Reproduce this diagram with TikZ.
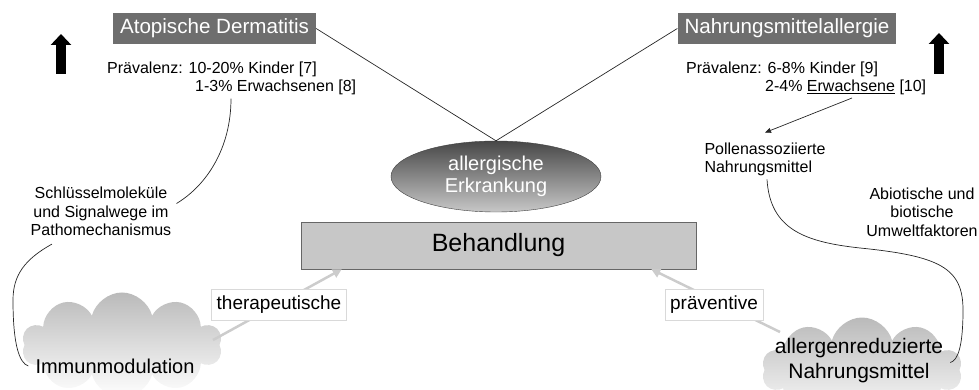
\documentclass[tikz,border=0pt]{standalone}
\usepackage{fontspec}
\setmainfont{Liberation Sans}
\usetikzlibrary{shapes.geometric,shapes.symbols,arrows.meta}
\newcommand{\fs}[2]{\fontsize{#1}{#2}\selectfont}

\begin{document}
\begin{tikzpicture}[x=1pt,y=-1pt,
    titlebox/.style={fill=black!57,text=white,font=\fs{20.6}{24},inner xsep=7pt,minimum height=31pt},
    plain/.style={font=\fs{16}{18.5},inner sep=0pt},
    lblbox/.style={draw=black!15,fill=white,font=\fs{19}{22},inner xsep=5pt,minimum height=31pt},
    wolke/.style={cloud,cloud puffs=10,cloud ignores aspect,top color=black!27,bottom color=white,inner sep=0pt},
    link/.style={black!85,line width=0.7pt},
    hint/.style={black!20,line width=2.5pt,-{Triangle[length=9pt,width=9pt]}},
    bigup/.style={line width=10pt,-{Triangle[width=20pt,length=11pt]}}]
	\clip (0,0) rectangle (979,390);
	% titles
	\node[titlebox] (atop) at (214.5,28.5) {Atopische Dermatitis};
	\node[titlebox] (nahr) at (787,28.5) {Nahrungsmittelallergie};
	\draw[bigup] (61,74) -- (61,34);
	\draw[bigup] (939,74) -- (939,33);
	% prevalence
	\node[plain,anchor=base west] (prevL1) at (107,74) {Prävalenz: 10-20\% Kinder [7]};
	\node[plain,anchor=base west] (prevL2) at (195,92) {1-3\% Erwachsenen [8]};
	\node[plain,anchor=base west] (prevR1) at (686,74) {Prävalenz: 6-8\% Kinder [9]};
	\node[plain,anchor=base west] (prevR2) at (765,92) {2-4\% \underline{Erwachsene} [10]};
	\coordinate (erw) at (852,98);
	% disease
	\node[ellipse,minimum width=210pt,minimum height=71pt,inner sep=0pt,draw=black!75,
	      top color=black!72,bottom color=black!22,text=white,align=center,font=\fs{20}{22}]
	      (erk) at (496,176.5) {allergische\\Erkrankung};
	\draw[link] (atop.east) -- (erk.north) -- (nahr.west);
	\node[draw=black!60,fill=black!22,minimum width=395pt,minimum height=47pt,font=\fs{25}{30}]
	      (beh) at (498.5,245.5) {Behandlung};
	% side texts
	\node[plain,align=center] (schl) at (101,211.5) {Schlüsselmoleküle\\und Signalwege im\\Pathomechanismus};
	\node[plain,align=left] (pollen) at (765,159.5) {Pollenassoziierte\\Nahrungsmittel};
	\node[plain,align=center] (umwelt) at (922,212) {Abiotische und\\biotische\\Umweltfaktoren};
	% clouds
	\node[wolke,minimum width=200pt,minimum height=105pt] (immcloud) at (122,345) {};
	\node[font=\fs{20}{24},inner sep=0pt] (immun) at (115,366) {Immunmodulation};
	\node[wolke,minimum width=200pt,minimum height=105pt] (redcloud) at (862,370) {};
	\node[font=\fs{21}{25},inner sep=0pt,align=center] (redtext) at (859,360.5) {allergenreduzierte\\Nahrungsmittel};
	% connectors
	\draw[link,-{Triangle[length=6pt,width=5pt]}] (erw) -- ([yshift=10pt]pollen.north);
	\draw[link] ([xshift=36pt,yshift=-3pt]prevL2.south west) .. controls +(0,50) and +(30,-18) .. ([xshift=5pt,yshift=8pt]schl.east);
	\draw[link] ([xshift=-49pt,yshift=-8pt]schl.south) .. controls +(-27,15) and +(0,-25) .. (13,300)
	      .. controls +(0,45) and +(-9,-3) .. ([xshift=-7pt]immun.west);
	\draw[link] ([xshift=2pt,yshift=-3pt]pollen.south) .. controls +(3,50) and +(-55,-6) .. (860,248)
	      .. controls +(80,8) and +(0,-42) .. (963,310) .. controls +(0,35) and +(8,-2) .. ([xshift=7pt,yshift=-2pt]redtext.east);
	\draw[hint] ([xshift=91pt,yshift=5pt]immcloud.center) -- ([xshift=41pt]beh.south west);
	\draw[hint] ([xshift=-82pt,yshift=38pt]redcloud.center) -- ([xshift=-45pt]beh.south east);
	\node[lblbox] (thera) at (279,305) {therapeutische};
	\node[lblbox] (praev) at (714,305) {präventive};
\end{tikzpicture}
\end{document}
